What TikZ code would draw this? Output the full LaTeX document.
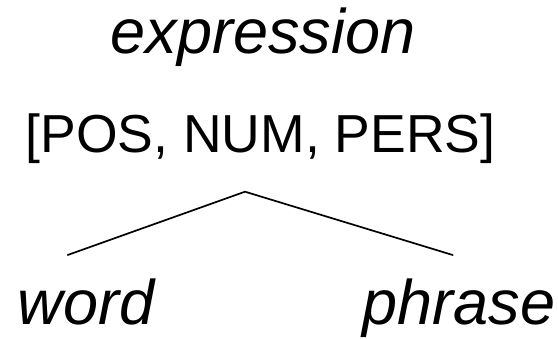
\documentclass[tikz,border=0pt]{standalone}
\usepackage{fontspec}
\setmainfont{Liberation Sans}
\begin{document}
\begin{tikzpicture}[x=1pt,y=1pt,
  typelabel/.style={anchor=base,inner sep=0pt,font=\fontsize{63}{72}\selectfont\itshape},
  featlabel/.style={anchor=base,inner sep=0pt,font=\fontsize{53.5}{62}\selectfont},
  branch/.style={line width=1.7pt,line cap=round}]
  \useasboundingbox (0,0) rectangle (558,-339);
  % type hierarchy: supertype, its features, and two subtypes
  \node[typelabel] (expr) at (263,-53.3) {expression};
  \node[featlabel] (feat) at (260.5,-152.7) {[POS, NUM, PERS]};
  \node[typelabel] (word) at (86,-325) {word};
  \node[typelabel] (phrase) at (459,-325) {phrase};
  % branching lines
  \coordinate (top) at (245,-191.7);
  \coordinate (wtop) at (67.7,-255);
  \coordinate (ptop) at (452.7,-255);
  \draw[branch] (wtop) -- (top) -- (ptop);
\end{tikzpicture}
\end{document}
